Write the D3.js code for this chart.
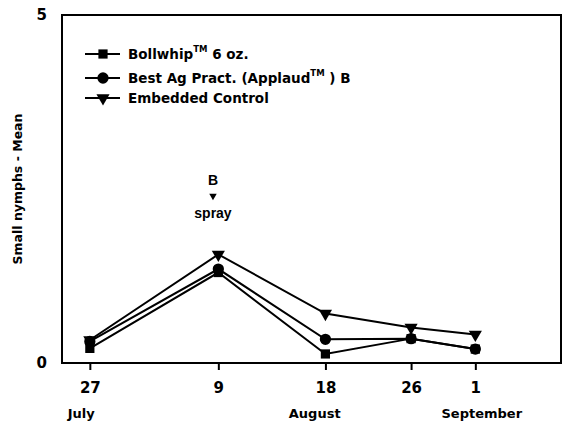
<!DOCTYPE html>
<html>
<head>
<meta charset="utf-8">
<script src="https://cdn.jsdelivr.net/npm/d3@7/dist/d3.min.js"></script>
<style>
  body { margin: 0; background: #fff; }
  text { font-family: "DejaVu Sans", Verdana, sans-serif; font-weight: bold; fill: #000; }
</style>
</head>
<body>
<div id="chart"></div>
<script>
// sampling dates (days after 27 July, as plotted)
const dayLabels = ['27', '9', '18', '26', '1'];
const days = [0, 12, 22, 30, 36];
const months = [{ name: 'July', day: -0.8 }, { name: 'August', day: 21.0 }, { name: 'September', day: 36.6 }];

const bollwhip = [0.21, 1.30, 0.13, 0.35, 0.20];
const bestAg = [0.31, 1.35, 0.34, 0.35, 0.20];
const control = [0.33, 1.56, 0.71, 0.51, 0.41];

const series = [
  { name: 'Bollwhip', values: bollwhip, symbol: d3.symbolSquare, size: 85 },
  { name: 'Best Ag', values: bestAg, symbol: d3.symbolCircle, size: 100 },
  { name: 'Embedded', values: control, symbol: d3.symbolTriangle, size: 75, flip: true }
];

const width = 566, height = 423;
const margin = { top: 15, right: 5, bottom: 60, left: 62 };

const svg = d3.select('#chart').append('svg')
  .attr('width', width)
  .attr('height', height);

const x = d3.scaleLinear().domain([-2.6, 44]).range([margin.left, width - margin.right]);
const y = d3.scaleLinear().domain([0, 5]).range([height - margin.bottom, margin.top]);

// frame
svg.append('rect')
  .attr('x', x(-2.6)).attr('y', y(5))
  .attr('width', x(44) - x(-2.6)).attr('height', y(0) - y(5))
  .attr('fill', 'none').attr('stroke', '#000').attr('stroke-width', 2);

// x axis
const xAxis = d3.axisBottom(x)
  .tickValues(days)
  .tickSize(7)
  .tickSizeOuter(0)
  .tickPadding(12)
  .tickFormat((d, i) => dayLabels[i]);

const gx = svg.append('g')
  .attr('transform', `translate(0,${y(0)})`)
  .call(xAxis);
gx.select('.domain').remove();
gx.selectAll('line').attr('stroke-width', 2);
gx.selectAll('text').style('font-size', '15px').style('font-family', '"DejaVu Sans", Verdana, sans-serif');

svg.selectAll('.month')
  .data(months)
  .enter().append('text')
  .attr('class', 'month')
  .attr('x', d => x(d.day))
  .attr('y', y(0) + 55)
  .attr('text-anchor', 'middle')
  .style('font-size', '13px')
  .text(d => d.name);

// y axis (labels only)
const yAxis = d3.axisLeft(y).tickValues([0, 5]).tickSize(0).tickPadding(15).tickFormat(d3.format('d'));
const gy = svg.append('g')
  .attr('transform', `translate(${margin.left},0)`)
  .call(yAxis);
gy.select('.domain').remove();
gy.selectAll('text').style('font-size', '15px').style('font-family', '"DejaVu Sans", Verdana, sans-serif');

svg.append('text')
  .attr('transform', `translate(22,${(y(0) + y(5)) / 2}) rotate(-90)`)
  .attr('text-anchor', 'middle')
  .style('font-size', '12.5px')
  .text('Small nymphs - Mean');

// lines
const line = d3.line()
  .x((d, i) => x(days[i]))
  .y(d => y(d));

series.forEach(s => {
  svg.append('path')
    .datum(s.values)
    .attr('d', line)
    .attr('fill', 'none')
    .attr('stroke', '#000')
    .attr('stroke-width', 2);

  svg.selectAll(null)
    .data(s.values)
    .enter().append('path')
    .attr('d', d3.symbol().type(s.symbol).size(s.size))
    .attr('transform', (d, i) => `translate(${x(days[i])},${y(d)})` + (s.flip ? ' rotate(180)' : ''))
    .attr('fill', '#000');
});

// spray annotation
const sprayX = x(11.5);
svg.append('text')
  .attr('x', sprayX).attr('y', 185)
  .attr('text-anchor', 'middle')
  .style('font-family', 'Arial, "Liberation Sans", sans-serif')
  .style('font-size', '14px')
  .text('B');
svg.append('path')
  .attr('d', d3.symbol().type(d3.symbolTriangle).size(24))
  .attr('transform', `translate(${sprayX},196) rotate(180)`)
  .attr('fill', '#000');
svg.append('text')
  .attr('x', sprayX).attr('y', 218)
  .attr('text-anchor', 'middle')
  .style('font-family', 'Arial, "Liberation Sans", sans-serif')
  .style('font-size', '14px')
  .text('spray');

// legend
const legendRows = [
  { y: 54, symbol: series[0], parts: [['Bollwhip', false], ['TM', true], [' 6 oz.', false]] },
  { y: 78, symbol: series[1], parts: [['Best Ag Pract. (Applaud', false], ['TM', true], [' ) B', false]] },
  { y: 98, symbol: series[2], parts: [['Embedded Control', false]] }
];

const legend = svg.append('g');
legendRows.forEach(r => {
  legend.append('line')
    .attr('x1', 85).attr('x2', 120)
    .attr('y1', r.y).attr('y2', r.y)
    .attr('stroke', '#000').attr('stroke-width', 2);
  legend.append('path')
    .attr('d', d3.symbol().type(r.symbol.symbol).size(r.symbol.size))
    .attr('transform', `translate(103,${r.y})` + (r.symbol.flip ? ' rotate(180)' : ''))
    .attr('fill', '#000');
  const t = legend.append('text')
    .attr('x', 128).attr('y', r.y + 5)
    .style('font-size', '13.5px');
  r.parts.forEach(p => {
    const ts = t.append('tspan').text(p[0]);
    if (p[1]) {
      ts.attr('dy', -7).style('font-size', '8.5px');
    } else if (t.selectAll('tspan').size() > 1) {
      ts.attr('dy', 7);
    }
  });
});
</script>
</body>
</html>
